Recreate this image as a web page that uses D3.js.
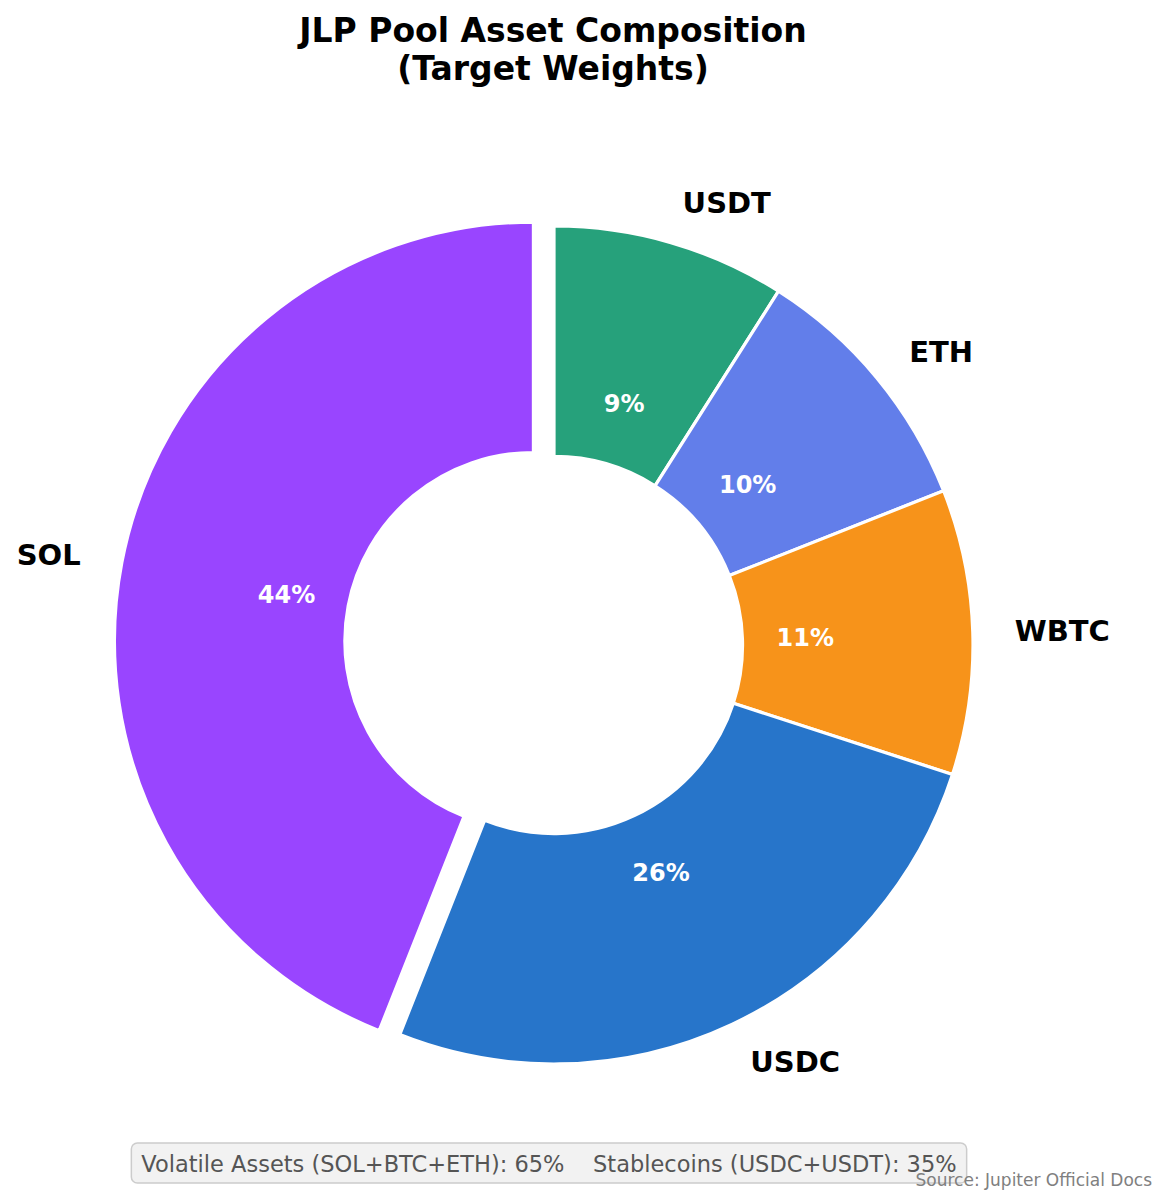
<!DOCTYPE html>
<html>
<head>
<meta charset="utf-8">
<script src="https://cdn.jsdelivr.net/npm/d3@7"></script>
<style>
  html, body { margin: 0; padding: 0; background: #ffffff; }
  svg { display: block; font-family: "DejaVu Sans", sans-serif; }
</style>
</head>
<body>
<svg id="chart" width="1167" height="1204"></svg>
<script>
const categories = ["USDT", "ETH", "WBTC", "USDC", "SOL"];
const values = [9, 10, 11, 26, 44];
const colors = ["#26A17B", "#627EEA", "#F7931A", "#2775CA", "#9945FF"];
const explode = [0, 0, 0, 0, 0.05];
const titleLines = ["JLP Pool Asset Composition", "(Target Weights)"];
const summaryText = "Volatile Assets (SOL+BTC+ETH): 65%\u00a0\u00a0\u00a0\u00a0Stablecoins (USDC+USDT): 35%";
const sourceText = "Source: Jupiter Official Docs";

const svg = d3.select("#chart");
const cx = 554, cy = 645, R = 419, inner = R * 0.45;

const data = categories.map((c, i) => ({ name: c, value: values[i], color: colors[i], explode: explode[i] }));
const pie = d3.pie().sort(null).value(d => d.value).startAngle(0).endAngle(2 * Math.PI);
const arcs = pie(data);
const arc = d3.arc().innerRadius(inner).outerRadius(R);
const total = d3.sum(values);

const g = svg.append("g").attr("transform", `translate(${cx},${cy})`);

arcs.forEach(a => {
  const mid = (a.startAngle + a.endAngle) / 2;
  const dx = Math.sin(mid) * a.data.explode * R;
  const dy = -Math.cos(mid) * a.data.explode * R;
  const sg = g.append("g").attr("transform", `translate(${dx},${dy})`);
  sg.append("path")
    .attr("d", arc(a))
    .attr("fill", a.data.color)
    .attr("stroke", "#ffffff")
    .attr("stroke-width", 3.2)
    .attr("stroke-linejoin", "round");
  // outer label
  const lx = Math.sin(mid) * R * 1.1;
  const ly = -Math.cos(mid) * R * 1.1;
  sg.append("text")
    .attr("x", lx).attr("y", ly)
    .attr("dy", "0.36em")
    .attr("text-anchor", lx > 0 ? "start" : "end")
    .attr("font-size", 29)
    .attr("font-weight", "bold")
    .attr("fill", "#000")
    .text(a.data.name);
  // percentage
  const px = Math.sin(mid) * R * 0.6;
  const py = -Math.cos(mid) * R * 0.6;
  sg.append("text")
    .attr("x", px).attr("y", py)
    .attr("dy", "0.36em")
    .attr("text-anchor", "middle")
    .attr("font-size", 24)
    .attr("font-weight", "bold")
    .attr("fill", "#ffffff")
    .text(Math.round(a.data.value / total * 100) + "%");
});

// title
svg.append("text")
  .attr("x", 553).attr("y", 42)
  .attr("text-anchor", "middle")
  .attr("font-size", 33)
  .attr("font-weight", "bold")
  .selectAll("tspan").data(titleLines).join("tspan")
  .attr("x", 553)
  .attr("dy", (d, i) => i === 0 ? 0 : 38)
  .text(d => d);

// summary box
const st = svg.append("text")
  .attr("x", 549).attr("y", 1172)
  .attr("text-anchor", "middle")
  .attr("font-size", 22.5)
  .attr("fill", "#555555")
  .text(summaryText);
const bb = st.node().getBBox();
svg.insert("rect", () => st.node())
  .attr("x", bb.x - 10).attr("y", 1143)
  .attr("width", bb.width + 20).attr("height", 40)
  .attr("rx", 6).attr("ry", 6)
  .attr("fill", "#f2f2f2")
  .attr("stroke", "#cccccc")
  .attr("stroke-width", 1.5);

// source
svg.append("text")
  .attr("x", 1152).attr("y", 1186)
  .attr("text-anchor", "end")
  .attr("font-size", 17)
  .attr("fill", "#808080")
  .text(sourceText);
</script>
</body>
</html>
